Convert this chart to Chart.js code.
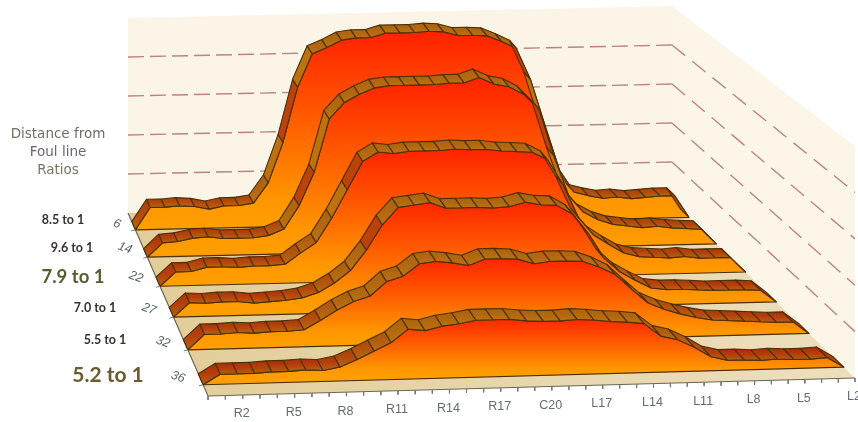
<!DOCTYPE html>
<html><head><meta charset="utf-8">
<style>html,body{margin:0;padding:0;background:#fff}canvas{display:block;filter:blur(0.6px)}</style>
<script src="https://cdn.jsdelivr.net/npm/chart.js@4/dist/chart.umd.min.js"></script>
</head><body><canvas id="c" width="858" height="422" style="width:858px;height:422px"></canvas>
<script>
const categories = ["R0","R1","R2","R3","R4","R5","R6","R7","R8","R9","R10","R11","R12","R13","R14","R15","R16","R17","R18","R19","C20","L19","L18","L17","L16","L15","L14","L13","L12","L11","L10","L9","L8","L7","L6","L5","L4","L3","L2"];
const distances = ["6","14","22","27","32","36"];
const ratios = ["8.5 to 1","9.6 to 1","7.9 to 1","7.0 to 1","5.5 to 1","5.2 to 1"];
const series6  = [0,22,22,23,22,19,22,22,24,44,84,139,172,178,185,187,187,191,191,191,192,191,187,187,186,180,173,141,95,50,28,24,21,22,20,21,22,22,0];
const series14 = [0,14,15,18,19,17,17,17,19,25,48,81,134,150,158,164,166,166,166,166,167,167,172,165,162,154,139,92,52,35,27,22,20,18,19,17,16,15,0];
const series22 = [0,14,14,18,18,17,18,18,19,30,40,64,92,120,129,127,129,129,129,130,129,129,127,126,125,117,92,59,41,31,22,18,17,16,17,15,15,15,0];
const series27 = [0,14,13,14,14,12,13,14,16,21,30,42,62,87,104,106,108,102,102,102,101,102,106,103,102,93,73,48,34,25,17,15,15,14,13,13,13,12,0];
const series32 = [0,15,15,16,15,16,16,17,26,36,44,49,63,68,80,82,80,77,83,83,82,77,79,79,78,72,64,49,35,28,23,19,16,15,14,13,12,12,0];
const series36 = [0,10,10,10,11,11,12,11,14,21,29,37,50,48,52,54,57,57,57,55,54,54,55,54,52,51,49,36,32,24,14,10,10,9,10,9,9,10,0];
const wallGrid = [39,78,117,156,195];

const allSeries = [series6,series14,series22,series27,series32,series36];
const ctx2d = document.getElementById('c').getContext('2d');

// floor homography: (u,v) in unit square -> chart units
const Q = {bl:[128,213], br:[672,201], fr:[855,378], fl:[208,396]};
const H = (function(){
  const [x0,y0]=Q.bl,[x1,y1]=Q.br,[x2,y2]=Q.fr,[x3,y3]=Q.fl;
  const dx1=x1-x2,dx2=x3-x2,sx=x0-x1+x2-x3,dy1=y1-y2,dy2=y3-y2,sy=y0-y1+y2-y3;
  const d=dx1*dy2-dx2*dy1, g=(sx*dy2-dx2*sy)/d, h=(dx1*sy-sx*dy1)/d;
  return {a:x1-x0+g*x1,b:x3-x0+h*x3,c:x0,d:y1-y0+g*y1,e:y3-y0+h*y3,f:y0,g,h};
})();
function project(u,v,lift){
  const w=H.g*u+H.h*v+1;
  return {x:(H.a*u+H.b*v+H.c)/w, y:(H.d*u+H.e*v+H.f)/w-(lift||0)};
}
const widthAt = v => project(1,v).x-project(0,v).x;
const grow = v => widthAt(v)/widthAt(0);
const depthOf = k => 0.108+0.168*k;
const RIBBON = 0.052;
const uOf = i => i/(categories.length-1);

function lg(y0,y1,stops){
  const g=ctx2d.createLinearGradient(0,y0,0,y1);
  stops.forEach(s=>g.addColorStop(s[0],s[1]));
  return g;
}
function poly(points,fillColor,line,lw,extra){
  return Object.assign({data:points.concat([points[0]]),showLine:true,pointRadius:0,tension:0,
    fill:'shape',backgroundColor:fillColor,borderColor:line||'transparent',borderWidth:lw===undefined?1:lw,borderJoinStyle:'round'},extra||{});
}
function stroke(points,color,lw,dash){
  return {data:points,showLine:true,pointRadius:0,tension:0,fill:false,borderColor:color,borderWidth:lw,borderDash:dash||[]};
}
function mix(a,b,t){
  const p=c=>[parseInt(c.slice(1,3),16),parseInt(c.slice(3,5),16),parseInt(c.slice(5,7),16)];
  const A=p(a),B=p(b);
  return 'rgb('+A.map((x,i)=>Math.round(x+(B[i]-x)*t)).join(',')+')';
}

const layers=[];
// walls
const topLift=wallGrid[wallGrid.length-1];
const rightFront=project(1,1);
layers.push(poly([project(0,0,topLift),project(1,0,topLift),project(1,0),project(0,0)],'#fbf5e8'));
const rw=[];
[0,1].forEach(v=>rw.push(project(1,v,topLift*grow(v))));
rw.push({x:rightFront.x,y:rightFront.y},project(1,0));
layers.push(poly(rw,'#fcf6e9'));
// floor
const fg=ctx2d.createLinearGradient(130,0,855,0);
fg.addColorStop(0,'#e2cd98');fg.addColorStop(1,'#ecdfbd');
layers.push(poly([project(0,0),project(1,0),project(1,1),project(0,1)],fg));
// dashed wall grid
wallGrid.slice(0,4).forEach(g=>{
  layers.push(stroke([project(0,0,g),project(1,0,g)],'#bd8383',1.4,[16,6]));
  layers.push(stroke([project(1,0,g),project(1,1,g*grow(1))],'#bd8383',1.4,[17,9]));
});
// floor edges
layers.push(stroke([project(0,0),project(0,1),project(1,1)],'#6b6552',1.2));
// series back to front
allSeries.forEach((vals,k)=>{
  const v=depthOf(k), vb=v-RIBBON;
  const front=vals.map((h,i)=>project(uOf(i),v,h));
  const base=[project(1,v),project(0,v)];
  const peak=Math.max.apply(null,vals);
  const by=project(0.5,v).y;
  const grad=lg(by,by-peak-4,[[0,'#ff9e00'],[0.12,'#ff9600'],[0.55,'#ff5a00'],[1,'#ff1f00']]);
  layers.push(poly(front.concat(base),grad,'#4e2e04',1.2));
  vals.forEach((h,i)=>{
    if(i===vals.length-1) return;
    const h2=vals[i+1];
    const a=front[i],b=front[i+1],c=project(uOf(i+1),vb,h2),d=project(uOf(i),vb,h);
    const top=Math.min(a.y,b.y,c.y,d.y),bot=Math.max(a.y,b.y,c.y,d.y);
    const t=Math.min(1,Math.max(h,h2)/45);
    const steep=Math.abs(h2-h)>24;
    let fill;
    if(steep){
      fill=(i%2)?'#bd720d':'#bc420c';
    }else{
      fill=lg(top,bot,[[0,mix('#a81e08','#a8620f',t)],[0.5,mix('#b8300a','#b2680f',t)],[1,mix('#a8600c','#ba7410',t)]]);
    }
    layers.push(poly([a,b,c,d],fill,'#4e2e04',1.1));
  });
});
// category axis ticks
categories.forEach((c,i)=>{
  const p=project(uOf(i),1);
  layers.push(stroke([p,{x:p.x,y:p.y+4}],'#7a7a70',1));
});
// depth axis ticks
distances.forEach((d,k)=>{
  const p=project(0,depthOf(k));
  layers.push(stroke([p,{x:p.x-4,y:p.y+1}],'#7a7a70',1));
});

const labelPlugin={id:'labels',afterDraw(chart){
  const {x:sx,y:sy}=chart.scales, c=chart.ctx;
  c.save();c.textAlign='center';c.textBaseline='middle';
  categories.forEach((t,i)=>{
    if((i-2)%3!==0) return;
    const p=project(uOf(i),1);
    c.fillStyle='#5f6e72';c.font='12.5px "Liberation Sans", sans-serif';
    c.fillText(t,sx.getPixelForValue(p.x-1),sy.getPixelForValue(p.y+19));
  });
  const title=[["Distance from",134,'#6d7062'],["Foul line",152,'#6a6478'],["Ratios",170,'#7c7460']];
  title.forEach(r=>{c.font='13.5px "DejaVu Sans", sans-serif';c.fillStyle=r[2];c.fillText(r[0],58,r[1]);});
  const ratioPos=[[63,220,'bold 12.5px','#35332b'],[72,248,'bold 12.5px','#35332b'],[73,277,'bold 18.5px','#5c5a30'],[95,308,'bold 12.5px','#35332b'],[105,340,'bold 12.5px','#35332b'],[108,375,'bold 21px','#6a5c2c']];
  ratios.forEach((t,k)=>{
    const r=ratioPos[k];
    c.font=r[2]+' Lato, "Open Sans", sans-serif';c.fillStyle=r[3];c.fillText(t,r[0],r[1]);
  });
  const dist=[[117,224],[125,248],[136,277],[149,309],[163,342],[178,377]];
  distances.forEach((t,k)=>{
    c.save();c.translate(dist[k][0],dist[k][1]);c.rotate(0.35);
    c.font='italic 12.5px "Liberation Sans", sans-serif';c.fillStyle='#566468';c.fillText(t,0,0);c.restore();
  });
  c.restore();
}};

new Chart(ctx2d,{
  type:'scatter',
  data:{datasets:layers.slice().reverse()},
  options:{
    responsive:false,animation:false,events:[],
    layout:{padding:0},
    plugins:{legend:{display:false},tooltip:{enabled:false},title:{display:false},filler:{propagate:false}},
    scales:{
      x:{type:'linear',display:false,min:0,max:858},
      y:{type:'linear',display:false,min:0,max:422,reverse:true}
    }
  },
  plugins:[labelPlugin]
});
</script></body></html>
